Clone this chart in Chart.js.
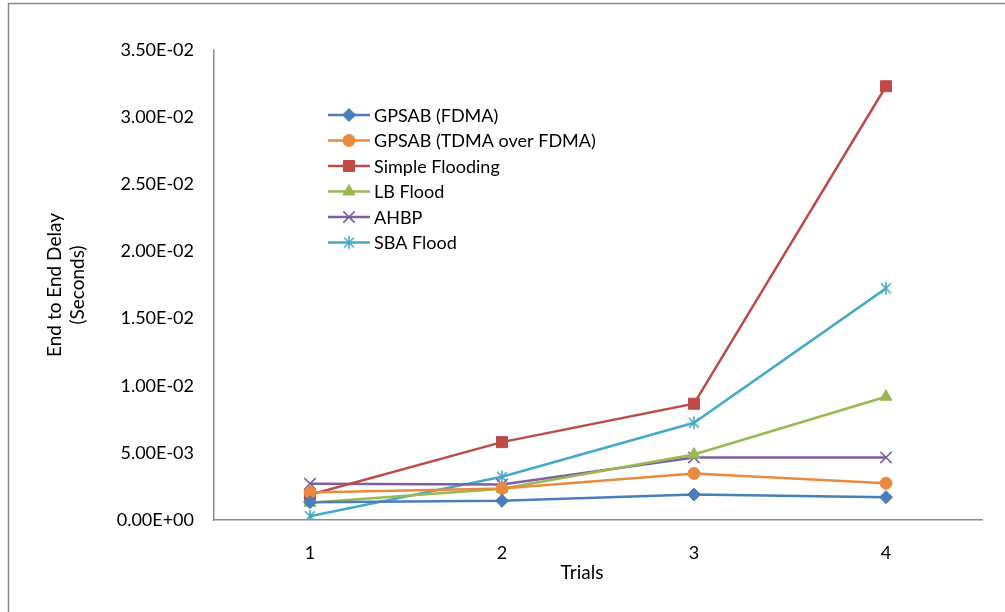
<!DOCTYPE html>
<html>
<head>
<meta charset="utf-8">
<script src="https://cdn.jsdelivr.net/npm/chart.js@4/dist/chart.umd.min.js"></script>
<style>
  html, body { margin: 0; padding: 0; background: #fff; }
  #wrap { position: relative; width: 1005px; height: 612px; }
</style>
</head>
<body>
<div id="wrap"><canvas id="chart" width="1005" height="612"></canvas></div>
<script>
// Data
const trials = ['1', '2', '3', '4'];
const seriesNames = ['GPSAB (FDMA)', 'GPSAB (TDMA over FDMA)', 'Simple Flooding', 'LB Flood', 'AHBP', 'SBA Flood'];
const gpsabFdma = [0.00133, 0.00143, 0.00190, 0.00170];
const gpsabTdma = [0.00205, 0.00235, 0.00347, 0.00274];
const simpleFlooding = [0.00188, 0.00580, 0.00866, 0.03230];
const lbFlood = [0.00128, 0.00232, 0.00488, 0.00918];
const ahbp = [0.00270, 0.00265, 0.00466, 0.00466];
const sbaFlood = [0.00028, 0.00322, 0.00724, 0.01725];
const yTicks = [0, 0.005, 0.01, 0.015, 0.02, 0.025, 0.03, 0.035];

const FONT = 'Lato, "Open Sans", sans-serif';

// Excel-style scientific label, e.g. 3.50E-02
const sci = (v) => {
    if (Math.abs(v) < 1e-12) return '0.00E+00';
    let e = Math.floor(Math.log10(Math.abs(v)) + 1e-9);
    let m = v / Math.pow(10, e);
    const sign = e < 0 ? '-' : '+';
    return m.toFixed(2) + 'E' + sign + String(Math.abs(e)).padStart(2, '0');
};

// asterisk marker (x plus vertical stroke) like Excel's star marker
const makeAsterisk = (color) => {
    const c = document.createElement('canvas');
    c.width = 16; c.height = 16;
    const g = c.getContext('2d');
    g.strokeStyle = color;
    g.lineWidth = 1.6;
    g.beginPath();
    g.moveTo(3, 3); g.lineTo(13, 13);
    g.moveTo(13, 3); g.lineTo(3, 13);
    g.moveTo(8, 1.5); g.lineTo(8, 14.5);
    g.stroke();
    return c;
};

const colors = ['#4A7EBB', '#EA8A3E', '#BE4B48', '#98B954', '#7D60A0', '#46AAC5'];
const styles = [
    { pointStyle: 'rectRot', radius: 6.5 },
    { pointStyle: 'circle', radius: 6 },
    { pointStyle: 'rect', radius: 7.8 },
    { pointStyle: 'triangle', radius: 7 },
    { pointStyle: 'crossRot', radius: 8 },
    { pointStyle: makeAsterisk(colors[5]), radius: 8 }
];
const values = [gpsabFdma, gpsabTdma, simpleFlooding, lbFlood, ahbp, sbaFlood];

const datasets = seriesNames.map((name, i) => ({
    label: name,
    data: values[i],
    borderColor: colors[i],
    backgroundColor: colors[i],
    borderWidth: 2.5,
    pointStyle: styles[i].pointStyle,
    pointRadius: styles[i].radius,
    pointBorderWidth: (i === 4) ? 1.6 : 1,
    pointBorderColor: colors[i],
    pointBackgroundColor: colors[i],
    tension: 0
}));

// outer frame + legend + x title
const decor = {
    id: 'decor',
    beforeDraw(chart) {
        const ctx = chart.ctx;
        ctx.save();
        ctx.strokeStyle = '#8a8a8a';
        ctx.lineWidth = 1.5;
        ctx.strokeRect(8.5, 3.5, 1200, 800);
        ctx.restore();
    },
    afterDraw(chart) {
        const ctx = chart.ctx;
        ctx.save();
        // legend
        const x0 = 328, x1 = 370, rowTop = 115, rowGap = 25.5;
        ctx.font = '18px ' + FONT;
        ctx.textBaseline = 'middle';
        ctx.textAlign = 'left';
        chart.data.datasets.forEach((ds, i) => {
            const y = rowTop + i * rowGap;
            ctx.strokeStyle = ds.borderColor;
            ctx.lineWidth = 2.5;
            ctx.beginPath();
            ctx.moveTo(x0, y);
            ctx.lineTo(x1, y);
            ctx.stroke();
            ctx.fillStyle = ds.pointBackgroundColor;
            ctx.strokeStyle = ds.pointBorderColor;
            ctx.lineWidth = ds.pointBorderWidth;
            Chart.helpers.drawPoint(ctx, {
                pointStyle: ds.pointStyle,
                radius: ds.pointRadius,
                rotation: 0,
                borderWidth: ds.pointBorderWidth
            }, (x0 + x1) / 2, y);
            ctx.fillStyle = '#000';
            ctx.fillText(ds.label, x1 + 4, y + 1);
        });
        // x axis title
        ctx.font = '19px ' + FONT;
        ctx.textAlign = 'center';
        ctx.fillStyle = '#000';
        ctx.fillText('Trials', 582, 573);
        ctx.restore();
    }
};

new Chart(document.getElementById('chart').getContext('2d'), {
    type: 'line',
    data: { labels: trials, datasets },
    options: {
        responsive: false,
        animation: false,
        layout: { padding: { top: 50, right: 23, bottom: 0, left: 0 } },
        plugins: {
            legend: { display: false },
            tooltip: { enabled: false }
        },
        scales: {
            x: {
                type: 'category',
                offset: true,
                grid: { display: false, drawTicks: false },
                border: { display: true, color: '#8c8c8c', width: 1.5 },
                ticks: { color: '#000', padding: 22, font: { family: FONT, size: 18 } },
                afterFit(scale) { scale.height = 92; }
            },
            y: {
                min: 0,
                max: 0.035,
                grid: { display: false, drawTicks: false },
                border: { display: true, color: '#8c8c8c', width: 1.5 },
                afterBuildTicks(scale) { scale.ticks = yTicks.map(v => ({ value: v })); },
                ticks: {
                    color: '#000',
                    padding: 20,
                    font: { family: FONT, size: 18 },
                    callback: (v) => sci(v)
                },
                title: {
                    display: true,
                    text: ['End to End Delay', '(Seconds)'],
                    color: '#000',
                    font: { family: FONT, size: 19, lineHeight: 1.22 },
                    padding: { top: 43, bottom: 0 }
                },
                afterFit(scale) { scale.width = 214; }
            }
        }
    },
    plugins: [decor]
});
</script>
</body>
</html>
